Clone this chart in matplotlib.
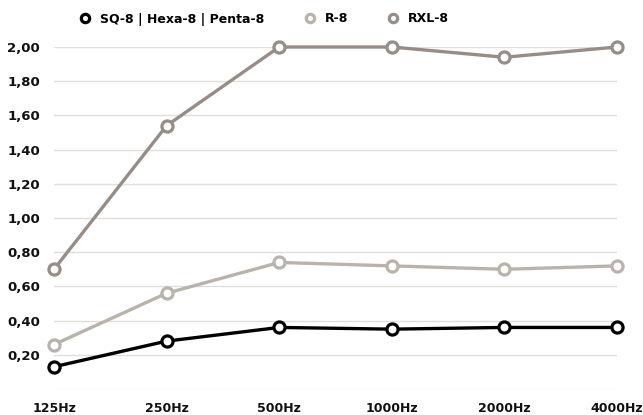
import numpy as np
import matplotlib
matplotlib.use("Agg")
import matplotlib.pyplot as plt

# --- data ---
freqs = ["125Hz", "250Hz", "500Hz", "1000Hz", "2000Hz", "4000Hz"]
sq8 = [0.13, 0.28, 0.36, 0.35, 0.36, 0.36]
r8 = [0.26, 0.56, 0.74, 0.72, 0.70, 0.72]
rxl8 = [0.70, 1.54, 2.00, 2.00, 1.94, 2.00]
series_names = ["SQ-8 | Hexa-8 | Penta-8", "R-8", "RXL-8"]
colors = ["#000000", "#bab3ac", "#968d87"]

plt.rcParams['font.family'] = ['DejaVu Sans']
plt.rcParams['font.weight'] = 'bold'

fig = plt.figure(figsize=(6.43, 4.15), dpi=100)
ax = fig.add_axes([54 / 643, 1 - 389 / 415, (617 - 54) / 643, (389 - 47) / 415])

x = np.arange(len(freqs))
for vals, name, c in zip([sq8, r8, rxl8], series_names, colors):
    ax.plot(x, vals, color=c, lw=2.4, marker='o', ms=8, mfc='white',
            mec=c, mew=2.3, label=name, clip_on=False, zorder=3)

ax.set_xlim(0, len(freqs) - 1)
ax.set_ylim(0, 2.0)
yt = np.arange(0.2, 2.01, 0.2)
ax.set_yticks(yt)
ax.set_yticklabels([f"{v:.2f}".replace(".", ",") for v in yt])
ax.set_xticks(x)
ax.set_xticklabels(freqs)

# horizontal gridlines, including the unlabeled zero line
for yv in np.arange(0, 2.01, 0.2):
    ax.axhline(yv, color="#e0ddda", lw=1.0, zorder=1)

for s in ax.spines.values():
    s.set_visible(False)
ax.tick_params(length=0, labelsize=9.5, colors="#111111")
ax.tick_params(axis='x', labelsize=9)
ax.tick_params(axis='y', pad=10)
ax.tick_params(axis='x', pad=9)

fig.legend(loc='center', bbox_to_anchor=(264 / 643, 1 - 19 / 415), ncol=3,
           frameon=False, fontsize=9, handlelength=1.0, columnspacing=3.1,
           handletextpad=0.7, markerscale=0.75)
for line in fig.legends[0].get_lines():
    line.set_linewidth(0)

fig.savefig("out.png", dpi=100)
